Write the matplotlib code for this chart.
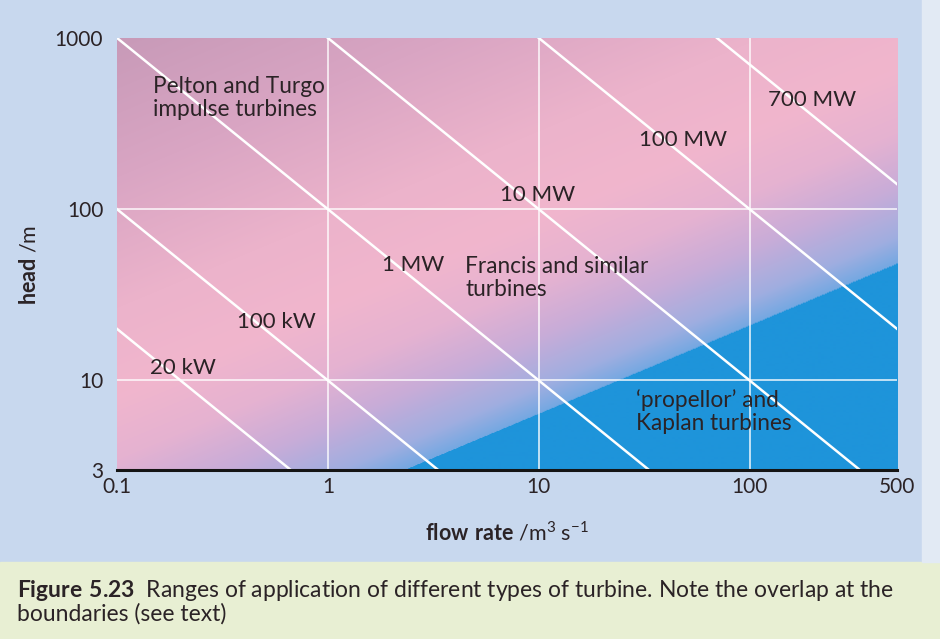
import numpy as np
import matplotlib.pyplot as plt
from matplotlib.colors import to_rgb
from matplotlib.patches import Rectangle
from matplotlib.ticker import NullLocator

plt.rcParams['font.family'] = ['Lato', 'DejaVu Sans']
plt.rcParams['mathtext.fontset'] = 'custom'
plt.rcParams['mathtext.rm'] = 'Lato'
plt.rcParams['mathtext.bf'] = 'Lato:bold'

# axes
x_ticks = [0.1, 1, 10, 100, 500]
x_tick_labels = ['0.1', '1', '10', '100', '500']
y_ticks = [3, 10, 100, 1000]
y_tick_labels = ['3', '10', '100', '1000']
grid_x = [1, 10, 100]
grid_y = [10, 100]

# power lines, roughly 10 kW per (m^3/s x m)
power_labels = ['20 kW', '100 kW', '1 MW', '10 MW', '100 MW', '700 MW']
power_kw = [20, 100, 1000, 10000, 100000, 700000]
label_q = [0.144, 0.37, 1.81, 6.55, 30, 122]
label_h = [11.8, 21.9, 47, 121, 254, 434]

# turbine regions
region_names = ['Pelton and Turgo\nimpulse turbines',
                'Francis and similar\nturbines',
                '\u2018propellor\u2019 and\nKaplan turbines']
region_q = [0.148, 4.47, 28.9]
region_h = [447, 39.6, 6.6]

# lower edge of the Kaplan zone
kaplan_q = [2.3, 500]
kaplan_h = [3, 48]

txt = '#2b2326'

fig = plt.figure(figsize=(9.4, 6.39), dpi=100, facecolor='#c8d8ee')
fig.patches.append(Rectangle((0, 0), 1, 77 / 639, transform=fig.transFigure,
                             color='#e8efd3', zorder=0))
fig.patches.append(Rectangle((922 / 940, 77 / 639), 1, 1, transform=fig.transFigure,
                             color='#e2eaf4', zorder=0))

ax = fig.add_axes([0.1245, 0.2645, 0.8298, 0.6761])
ax.set_xscale('log')
ax.set_yscale('log')
ax.set_xlim(x_ticks[0], x_ticks[-1])
ax.set_ylim(y_ticks[0], y_ticks[-1])

# shaded background, colour set by distance from the Kaplan edge
W, Hh = 780, 432
e = ax.transAxes.inverted().transform(
    ax.transData.transform(np.column_stack([kaplan_q, kaplan_h])))
e[:, 0] *= W
e[:, 1] *= Hh
t = (e[1] - e[0]) / np.hypot(*(e[1] - e[0]))
n = np.array([-t[1], t[0]])
uu, vv = np.meshgrid(np.arange(W) + 0.5, np.arange(Hh) + 0.5)
dist = (uu - e[0, 0]) * n[0] + (vv - e[0, 1]) * n[1]

stop_d = [0, 25, 70, 120, 180, 260, 380, 520]
stop_c = ['#74a8e2', '#a0aee0', '#c8acd8', '#e5b2d1', '#f1b6cd', '#ecb3cb', '#d9a5c3', '#c699b7']
rgb = np.array([to_rgb(c) for c in stop_c])
img = np.stack([np.interp(dist, stop_d, rgb[:, k]) for k in range(3)], axis=-1)
img[dist < 0] = to_rgb('#1e94da')
ax.imshow(img, extent=(0, 1, 0, 1), transform=ax.transAxes, origin='lower',
          aspect='auto', zorder=0, interpolation='bilinear')
ax.set_xlim(x_ticks[0], x_ticks[-1])
ax.set_ylim(y_ticks[0], y_ticks[-1])

for gx in grid_x:
    ax.axvline(gx, color='white', lw=1.2, alpha=0.85, zorder=1)
for gy in grid_y:
    ax.axhline(gy, color='white', lw=1.2, alpha=0.85, zorder=1)

q = np.logspace(np.log10(x_ticks[0]), np.log10(x_ticks[-1]), 300)
for p in power_kw:
    ax.plot(q, p / 10 / q, color='white', lw=1.8, zorder=2)

for lab, lq, lh in zip(power_labels, label_q, label_h):
    ax.text(lq, lh, lab, fontsize=16, color=txt, ha='left', va='center', zorder=3)
for lab, rq, rh in zip(region_names, region_q, region_h):
    ax.text(rq, rh, lab, fontsize=16.3, color=txt, ha='left', va='center',
            linespacing=1.12, zorder=3)

for s in ['top', 'right', 'left']:
    ax.spines[s].set_visible(False)
ax.spines['bottom'].set_color('#151515')
ax.spines['bottom'].set_linewidth(2.2)

ax.set_xticks(x_ticks, x_tick_labels)
ax.set_yticks(y_ticks, y_tick_labels)
ax.xaxis.set_minor_locator(NullLocator())
ax.yaxis.set_minor_locator(NullLocator())
ax.tick_params(length=0, labelsize=15, colors=txt)
ax.tick_params(axis='x', pad=5)
ax.tick_params(axis='y', pad=10)

ax.set_ylabel(r'$\mathbf{head}$ /m', fontsize=15.5, color=txt)
ax.yaxis.set_label_coords(-0.10, 0.475)
ax.set_xlabel(r'$\mathbf{flow\ rate}$ /m$^3$ s$^{-1}$', fontsize=15.5, color=txt)
ax.xaxis.set_label_coords(0.5, -0.115)

fig.text(0.018, 1 - 621 / 639,
         r'$\mathbf{Figure\ 5.23}$  Ranges of application of different types of turbine. '
         'Note the overlap at the\nboundaries (see text)',
         fontsize=16.5, color=txt, ha='left', va='baseline', linespacing=1.05)

fig.savefig('out.png', dpi=100, facecolor=fig.get_facecolor())
